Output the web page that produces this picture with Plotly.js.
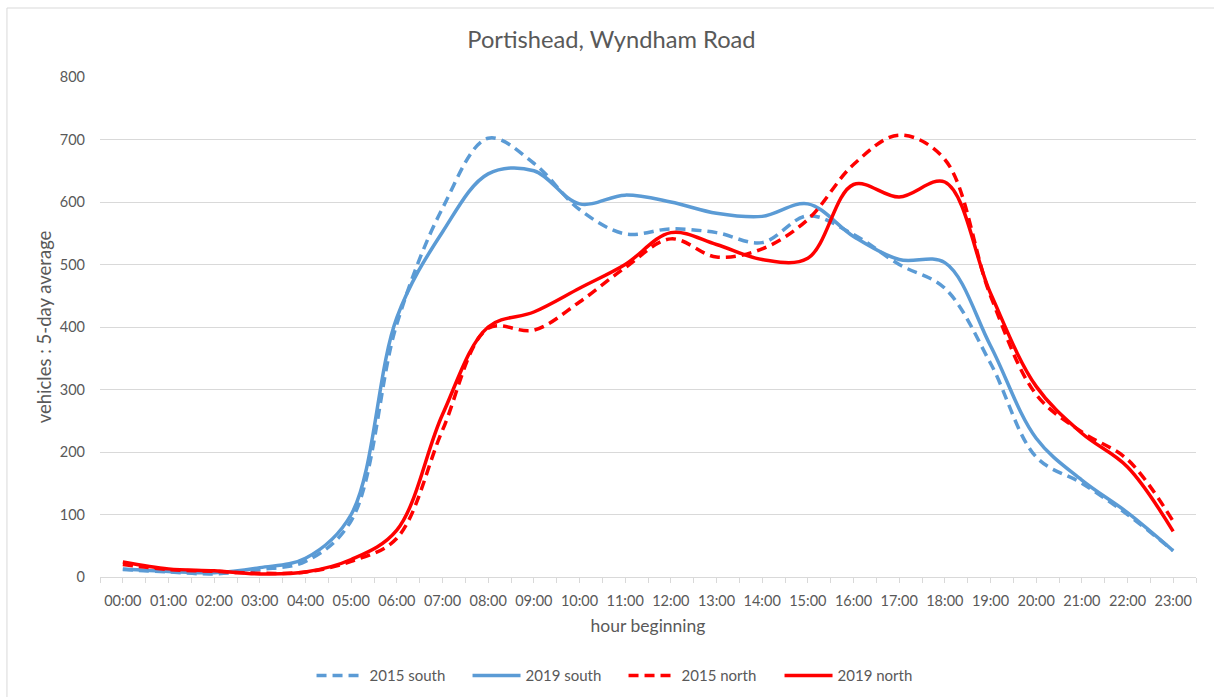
<!DOCTYPE html>
<html>
<head>
<meta charset="utf-8">
<script src="https://cdn.plot.ly/plotly-3.0.1.min.js"></script>
<style>html,body{margin:0;padding:0;background:#fff;}#chart{width:1214px;height:697px;}</style>
</head>
<body>
<div id="chart"></div>
<script>
const hours = ["00:00","01:00","02:00","03:00","04:00","05:00","06:00","07:00","08:00","09:00","10:00","11:00","12:00","13:00","14:00","15:00","16:00","17:00","18:00","19:00","20:00","21:00","22:00","23:00"];
const south2015 = [12, 8, 5, 12, 25, 90, 405, 590, 702, 662, 588, 549, 557, 551, 535, 578, 548, 500, 462, 342, 192, 150, 100, 42];
const south2019 = [13, 9, 7, 15, 30, 100, 415, 552, 645, 650, 597, 611, 600, 582, 577, 597, 545, 508, 503, 370, 222, 155, 103, 42];
const north2015 = [20, 12, 9, 6, 8, 25, 62, 235, 398, 395, 440, 495, 541, 512, 525, 572, 660, 707, 668, 450, 292, 232, 188, 89];
const north2019 = [24, 13, 10, 5, 8, 28, 75, 260, 400, 424, 462, 500, 551, 532, 508, 510, 628, 608, 632, 454, 305, 230, 176, 73];

const blue = "#5B9BD5", red = "#FF0000";
const font = "Lato, 'Open Sans', 'Liberation Sans', sans-serif";
function tr(name, y, color, dash) {
  return {x: hours, y: y, name: name, type: "scatter", mode: "lines",
    line: {color: color, width: 3.5, shape: "spline", smoothing: 1, dash: dash},
    hoverinfo: "x+y+name"};
}
const data = [
  tr("2015 south", south2015, blue, "10px,6px"),
  tr("2019 south", south2019, blue, "solid"),
  tr("2015 north", north2015, red, "10px,6px"),
  tr("2019 north", north2019, red, "solid"),
  {x: [], y: [], xaxis: "x2", yaxis: "y", type: "scatter", mode: "lines", showlegend: false, hoverinfo: "skip"}
];
const layout = {
  width: 1214, height: 697,
  margin: {l: 100, r: 18, t: 77, b: 120},
  paper_bgcolor: "#fff", plot_bgcolor: "#fff",
  font: {family: font, color: "#595959", size: 14},
  title: {text: "Portishead, Wyndham Road", font: {size: 23.7, color: "#595959", family: font}, x: 0.5037, xanchor: "center", y: 0.943, yanchor: "middle"},
  xaxis: {type: "category", range: [-0.5, 23.5], showgrid: false, showline: true, linecolor: "#d9d9d9", linewidth: 1,
    ticks: "", ticklabelstandoff: 11, tickfont: {size: 14.5, color: "#595959"},
    title: {text: "hour beginning", font: {size: 17.5, color: "#595959"}, standoff: 11}, zeroline: false, fixedrange: true},
  xaxis2: {overlaying: "x", anchor: "y", side: "bottom", type: "linear", range: [-0.5, 23.5], tick0: -0.5, dtick: 0.5,
    ticks: "outside", ticklen: 5, tickcolor: "#d9d9d9", tickwidth: 1, showticklabels: false, showgrid: false,
    showline: false, zeroline: false, fixedrange: true},
  yaxis: {range: [0, 800], dtick: 100, tick0: 0, showgrid: true, gridcolor: "#d9d9d9", gridwidth: 1, zeroline: false,
    showline: false, ticks: "", ticklabelstandoff: 14, tickfont: {size: 14.5, color: "#595959"},
    title: {text: "vehicles : 5-day average", font: {size: 18.5, color: "#595959"}, standoff: 3}, fixedrange: true},
  legend: {orientation: "h", x: 0.193, xanchor: "left", yref: "container", y: 0.0306, yanchor: "middle", font: {size: 15, color: "#595959"},
    traceorder: "normal", itemwidth: 48, entrywidth: 93, entrywidthmode: "pixels", tracegroupgap: 0},
  showlegend: true,
  shapes: [{type: "rect", xref: "paper", yref: "paper", x0: -0.0849, x1: 1.05, y0: -0.3, y1: 1.138,
    line: {color: "#d9d9d9", width: 1}, fillcolor: "rgba(0,0,0,0)", layer: "below"}]
};
Plotly.newPlot("chart", data, layout, {displayModeBar: false, staticPlot: true});
</script>
</body>
</html>
